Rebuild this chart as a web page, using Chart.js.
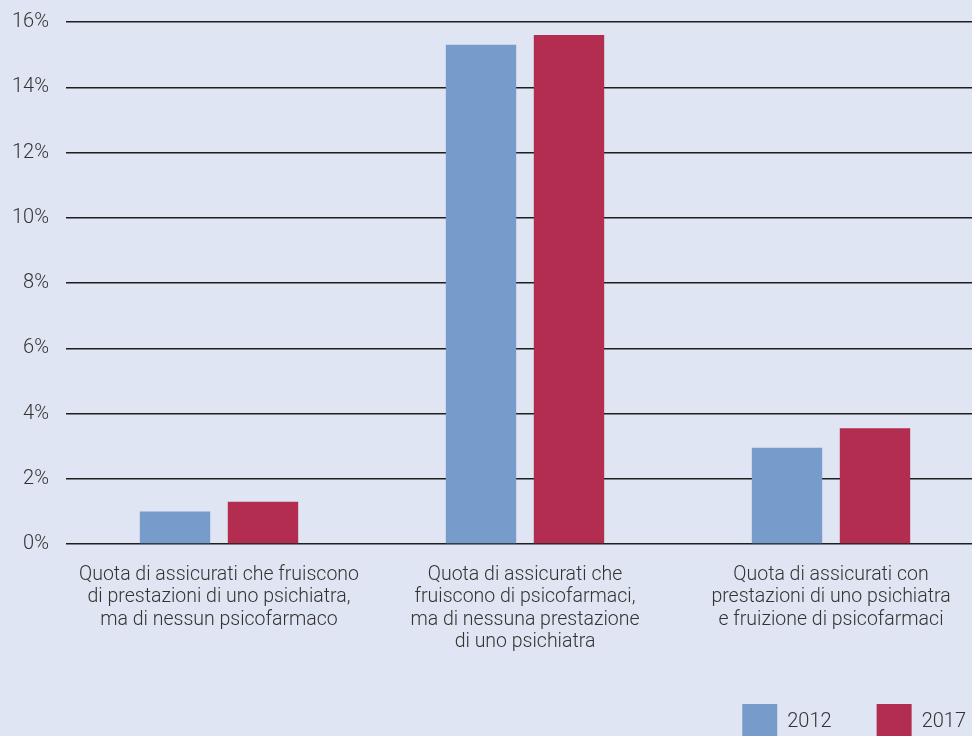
<!DOCTYPE html>
<html>
<head>
<meta charset="utf-8">
<script src="https://cdn.jsdelivr.net/npm/chart.js@4/dist/chart.umd.min.js"></script>
<style>
  html, body { margin: 0; padding: 0; background: #dfe5f2; overflow: hidden; }
  #wrap { width: 984px; height: 755px; }
</style>
</head>
<body>
<div id="wrap"><canvas id="chart" width="984" height="755"></canvas></div>
<script>
const categories = [
    ["Quota di assicurati che fruiscono", "di prestazioni di uno psichiatra,", "ma di nessun psicofarmaco"],
    ["Quota di assicurati che", "fruiscono di psicofarmaci,", "ma di nessuna prestazione", "di uno psichiatra"],
    ["Quota di assicurati con", "prestazioni di uno psichiatra", "e fruizione di psicofarmaci"]
];
const values2012 = [1.0, 15.3, 2.95];
const values2017 = [1.3, 15.6, 3.55];
const seriesNames = ["2012", "2017"];
const yTicks = [0, 2, 4, 6, 8, 10, 12, 14, 16];

const textColor = "#333";
const fontFamily = "Roboto, 'DejaVu Sans', sans-serif";

// nudge the legend so it sits flush with the window's bottom-right corner
const legendShift = {
    id: 'legendShift',
    afterLayout(chart) {
        const lg = chart.legend;
        if (lg) {
            lg.left += 27;
            lg.right += 27;
            lg.top -= 6;
            lg.bottom -= 6;
        }
    }
};

const ctx = document.getElementById("chart").getContext("2d");
new Chart(ctx, {
    type: 'bar',
    data: {
        labels: categories,
        datasets: [{
            label: seriesNames[0],
            data: values2012,
            backgroundColor: '#779bca'
        }, {
            label: seriesNames[1],
            data: values2017,
            backgroundColor: '#b22d50'
        }]
    },
    options: {
        responsive: false,
        animation: false,
        categoryPercentage: 0.575,
        barPercentage: 0.8,
        layout: {
            padding: { left: 0, right: 0, top: 0, bottom: 0 }
        },
        plugins: {
            legend: {
                position: 'bottom',
                align: 'end',
                labels: {
                    boxWidth: 35,
                    boxHeight: 35,
                    padding: 45,
                    color: textColor,
                    font: { family: fontFamily, size: 20, weight: 300 }
                }
            },
            tooltip: { enabled: false }
        },
        scales: {
            x: {
                grid: { display: false },
                border: { display: false },
                ticks: {
                    color: textColor,
                    maxRotation: 0,
                    autoSkip: false,
                    padding: 12,
                    font: { family: fontFamily, size: 19.5, weight: 300, lineHeight: 1.14 }
                }
            },
            y: {
                min: 0,
                max: 16,
                afterBuildTicks: axis => {
                    axis.ticks = yTicks.map(v => ({ value: v }));
                },
                afterFit: axis => {
                    axis.width = 66;
                    axis.paddingTop = 22;
                },
                grid: {
                    color: '#1e1e1e',
                    lineWidth: 1.5,
                    drawTicks: false
                },
                border: { display: false },
                ticks: {
                    color: textColor,
                    padding: 17,
                    font: { family: fontFamily, size: 20, weight: 300 },
                    callback: function(value) {
                        return value + "%";
                    }
                }
            }
        }
    },
    plugins: [legendShift]
});
</script>
</body>
</html>
